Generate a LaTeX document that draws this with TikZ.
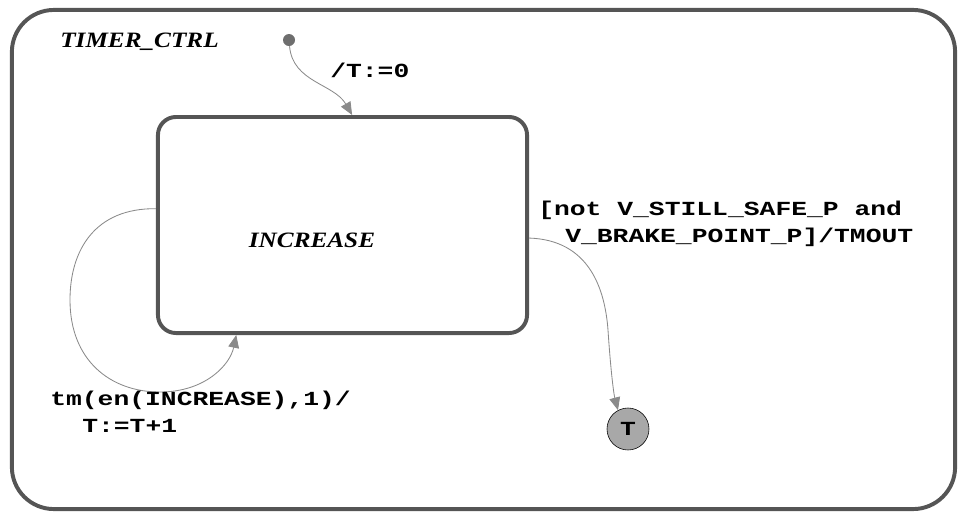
\documentclass[tikz,border=0pt]{standalone}
\usepackage{fontspec}
\usetikzlibrary{arrows.meta,positioning}
\newfontfamily\monofont{Liberation Mono}[FakeStretch=1.32]
\newfontfamily\namefont{Liberation Serif}[FakeStretch=1.15]
\definecolor{frame}{HTML}{555555}
\definecolor{wire}{HTML}{8A8A8A}
\definecolor{termfill}{HTML}{A8A8A8}

\begin{document}
\begin{tikzpicture}[
    x=0.025cm, y=-0.025cm,
    chart/.style={draw=frame, line width=2.8pt, rectangle, rounded corners=1.05cm, minimum width=23.575cm, minimum height=12.475cm},
    state/.style={draw=frame, line width=2.8pt, rectangle, rounded corners=0.45cm, minimum width=9.225cm, minimum height=5.4cm},
    sname/.style={font=\namefont\fontsize{15.6}{18}\selectfont\bfseries\itshape, inner sep=0pt},
    initdot/.style={circle, fill=frame!85, minimum size=0.3cm, inner sep=0pt},
    term/.style={circle, draw=black, fill=termfill, minimum size=1.05cm, inner sep=0pt, font=\monofont\fontsize{14.2}{17}\selectfont\bfseries},
    arr/.style={-{Triangle[length=0.32cm, width=0.27cm]}, draw=wire, line width=0.6pt},
    lbl/.style={font=\monofont\fontsize{14.2}{19.2}\selectfont\bfseries, inner sep=0pt, align=left},
  ]
  \useasboundingbox (0,0) rectangle (963,514);

  % outer chart and its state
  \node[chart] (ctrl) at (483.5,259.5) {};
  \node[sname, anchor=west] (ctrlname) at (60,42) {TIMER\_CTRL};
  \node[state] (incr) at (342.5,225) {};
  \node[sname] (incrname) at (312,240) {INCREASE};

  % default transition
  \node[initdot] (init) at (289,40) {};
  \draw[arr] (init) to[out=-85, in=120] (incr.85.5);
  \node[lbl, anchor=west] (initlbl) at (330,70) {/T:=0};

  % timeout self loop
  \draw[arr] (incr.175) .. controls (95,208) and (70,250) .. (70,300)
    .. controls (70,360) and (110,392) .. (160,392)
    .. controls (205,392) and (230,365) .. (incr.226);
  \node[lbl, anchor=north west] (looplbl) at (50,391) {tm(en(INCREASE),1)/\\\hspace*{0.8cm}T:=T+1};

  % exit to termination
  \node[term] (T) at (628,429) {T};
  \draw[arr] (incr.-4) .. controls (590,240) and (605,290) .. (608,330)
    .. controls (611,375) and (614,395) .. (T.118);
  \node[lbl, anchor=north west] (exitlbl) at (538,201) {[not V\_STILL\_SAFE\_P and\\\hspace*{0.675cm}V\_BRAKE\_POINT\_P]/TMOUT};
\end{tikzpicture}
\end{document}
